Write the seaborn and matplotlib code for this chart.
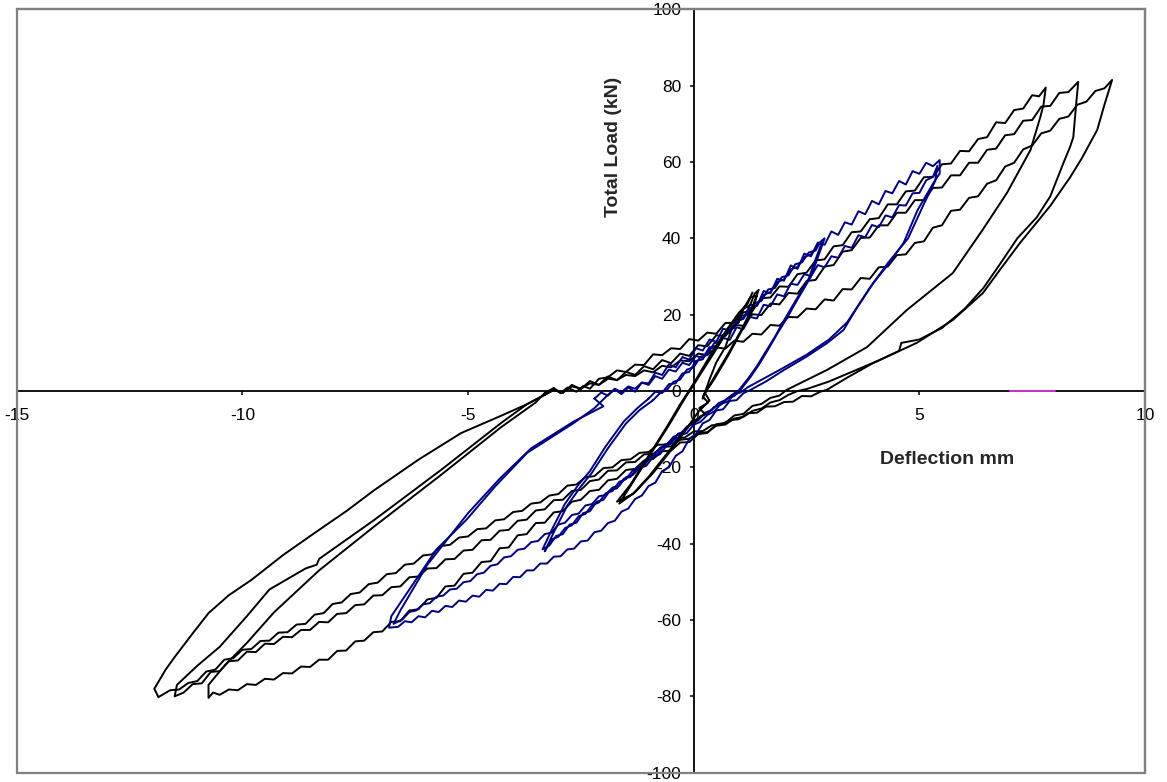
import matplotlib
matplotlib.use("Agg")
import matplotlib.pyplot as plt
from matplotlib.patches import Rectangle
import seaborn as sns
import numpy as np

# ---------------- data (deflection mm, total load kN) ----------------
# Black cycle 1 (peak +7.8 / -10.75)
blk1_up = [(-3.3,-0.5),(-3.1,0.8),(-2.95,-0.6),(-2.8,0.9),(-2.6,-0.2),(-2.45,1.3),(-2.3,0.6),(-2.1,3.2),(-1.9,3.6),(-1.7,5.4),(-1.5,5.0),(-1.3,6.9),(-1.1,6.8),(-0.9,9.6),(-0.7,9.4),(-0.5,11.2),(-0.3,11.0),(-0.1,13.6),(0.1,13.2),(0.3,15.3),(0.5,15.0),(0.7,17.8),(0.9,17.9),(1.1,20.6),(1.3,21.0),(1.5,24.3),(1.7,24.5),(1.9,27.4),(2.1,27.3),(2.3,30.6),(2.5,31.0),(2.7,34.2),(2.9,34.5),(3.1,37.9),(3.3,38.2),(3.5,41.6),(3.7,41.8),(3.9,45.0),(4.1,45.3),(4.3,48.9),(4.5,48.9),(4.7,52.3),(4.9,52.5),(5.1,56.0),(5.3,56.1),(5.5,59.4),(5.7,59.6),(5.9,62.9),(6.1,62.8),(6.3,66.0),(6.5,66.5),(6.7,70.4),(6.9,70.2),(7.1,73.6),(7.3,74.0),(7.5,77.5),(7.65,77.2),(7.8,79.5)]
blk1_unload = [(7.8,79.5),(7.75,75.0),(7.68,71.8),(7.46,63.1),(6.94,51.9),(6.4,42.2),(5.74,30.9),(4.72,21.2),(3.84,11.5),(2.95,5.5),(2.06,0.3)]
blk1_low = [(1.9,-1.2),(1.7,-1.8),(1.5,-3.4),(1.3,-3.9),(1.1,-6.0),(0.9,-6.4),(0.7,-8.4),(0.5,-8.7),(0.3,-11.0),(0.1,-11.3),(-0.1,-13.4),(-0.3,-13.5),(-0.5,-15.6),(-0.7,-15.8),(-0.9,-17.8),(-1.1,-18.2),(-1.3,-20.4),(-1.5,-20.7),(-1.7,-23.0),(-1.9,-23.4),(-2.1,-25.9),(-2.3,-26.2),(-2.5,-28.5),(-2.7,-29.0),(-2.9,-31.5),(-3.1,-31.8),(-3.3,-34.5),(-3.5,-34.6),(-3.7,-37.5),(-3.9,-37.8),(-4.1,-41.0),(-4.3,-41.2),(-4.5,-44.6),(-4.7,-44.8),(-4.9,-47.6),(-5.1,-47.9),(-5.3,-51.0),(-5.5,-51.2),(-5.7,-54.2),(-5.9,-54.6),(-6.1,-57.2),(-6.3,-57.5),(-6.5,-60.3),(-6.7,-60.5),(-6.9,-63.0),(-7.1,-63.2),(-7.3,-65.4),(-7.5,-65.6),(-7.7,-68.0),(-7.9,-68.1),(-8.1,-70.4),(-8.3,-70.4),(-8.5,-72.3),(-8.7,-72.2),(-8.9,-74.0),(-9.1,-73.9),(-9.3,-75.6),(-9.5,-75.4),(-9.7,-77.0),(-9.9,-76.8),(-10.1,-78.4),(-10.3,-78.2),(-10.5,-79.6),(-10.65,-79.0),(-10.75,-80.4)]
blk1_back = [(-10.75,-80.4),(-10.75,-77.0),(-10.4,-72.0),(-9.9,-66.0),(-9.3,-58.0),(-8.3,-47.0),(-7.08,-35.5),(-5.6,-22.0),(-4.27,-9.5),(-3.5,-3.0),(-3.3,-0.5)]

# Black cycle 2 (peak +8.5 / -11.5)
blk2_up = [(-3.3,-1.0),(-3.1,0.5),(-2.9,-0.5),(-2.7,1.6),(-2.5,0.5),(-2.3,2.6),(-2.1,1.6),(-1.9,3.8),(-1.7,2.8),(-1.5,5.0),(-1.3,4.2),(-1.1,6.5),(-0.9,5.7),(-0.7,8.1),(-0.5,7.3),(-0.3,9.8),(-0.1,9.2),(0.1,12.0),(0.3,11.7),(0.5,14.6),(0.7,14.4),(0.9,17.3),(1.1,17.1),(1.3,20.1),(1.5,19.9),(1.7,22.9),(1.9,22.7),(2.1,25.7),(2.3,25.5),(2.5,28.8),(2.7,29.1),(2.9,32.6),(3.1,33.0),(3.3,36.5),(3.5,36.9),(3.7,40.1),(3.9,40.2),(4.1,43.4),(4.3,43.4),(4.5,46.7),(4.7,46.7),(4.9,50.0),(5.1,50.0),(5.3,53.2),(5.5,53.3),(5.7,56.5),(5.9,56.5),(6.1,59.8),(6.3,59.8),(6.5,63.2),(6.7,63.5),(6.9,67.0),(7.1,67.3),(7.3,70.8),(7.5,71.0),(7.7,74.5),(7.9,74.7),(8.1,78.1),(8.3,78.3),(8.52,81.0)]
blk2_unload = [(8.52,81.0),(8.48,76.0),(8.41,66.5),(8.34,64.0),(8.2,60.0),(7.9,51.0),(7.6,45.5),(7.17,40.0),(6.8,33.5),(6.42,27.0),(6.0,21.5),(5.5,16.5),(5.0,13.5),(4.6,12.6),(4.55,10.5),(4.1,8.0),(3.6,5.5),(3.0,2.5),(2.5,0.5),(2.3,0.0)]
blk2_low = [(2.1,-1.0),(1.9,-2.4),(1.7,-3.0),(1.5,-4.6),(1.3,-5.2),(1.1,-6.8),(0.9,-7.2),(0.7,-8.8),(0.5,-9.1),(0.3,-10.8),(0.1,-11.0),(-0.1,-12.5),(-0.3,-12.8),(-0.5,-14.5),(-0.7,-14.7),(-0.9,-16.5),(-1.1,-16.6),(-1.3,-18.6),(-1.5,-18.7),(-1.7,-20.8),(-1.9,-20.9),(-2.1,-23.2),(-2.3,-23.6),(-2.5,-25.9),(-2.7,-26.2),(-2.9,-28.5),(-3.1,-28.6),(-3.3,-31.0),(-3.5,-31.3),(-3.7,-33.7),(-3.9,-34.0),(-4.1,-36.4),(-4.3,-36.6),(-4.5,-39.0),(-4.7,-39.1),(-4.9,-41.6),(-5.1,-41.8),(-5.3,-44.0),(-5.5,-44.1),(-5.7,-46.4),(-5.9,-46.5),(-6.1,-48.6),(-6.3,-48.8),(-6.5,-51.2),(-6.7,-51.4),(-6.9,-53.5),(-7.1,-53.6),(-7.3,-55.9),(-7.5,-56.1),(-7.7,-58.2),(-7.9,-58.4),(-8.1,-60.6),(-8.3,-60.5),(-8.5,-62.6),(-8.7,-62.6),(-8.9,-64.5),(-9.1,-64.4),(-9.3,-66.3),(-9.5,-66.2),(-9.7,-68.4),(-9.9,-68.3),(-10.1,-70.6),(-10.3,-70.8),(-10.5,-73.4),(-10.7,-73.6),(-10.9,-76.6),(-11.1,-76.8),(-11.3,-79.0),(-11.5,-80.0)]
blk2_back = [(-11.5,-80.0),(-11.45,-77.0),(-11.0,-72.0),(-10.5,-67.0),(-9.9,-59.0),(-9.4,-52.0),(-8.6,-46.5),(-8.35,-45.5),(-8.3,-44.0),(-7.08,-33.8),(-5.6,-20.7),(-4.27,-8.4),(-3.7,-3.5),(-3.3,-1.0)]

# Black cycle 3 (peak +9.3 / -11.9)
blk3_up = [(-3.3,-1.0),(-3.1,0.2),(-2.9,-0.4),(-2.7,1.2),(-2.5,0.6),(-2.3,2.0),(-2.1,1.6),(-1.9,3.2),(-1.7,2.9),(-1.5,4.2),(-1.3,3.9),(-1.1,5.4),(-0.9,4.9),(-0.7,6.6),(-0.5,6.2),(-0.3,8.0),(-0.1,7.8),(0.1,9.8),(0.3,9.4),(0.5,11.4),(0.7,11.1),(0.9,13.2),(1.1,12.9),(1.3,15.0),(1.5,14.8),(1.7,17.3),(1.9,17.1),(2.1,19.4),(2.3,19.3),(2.5,21.6),(2.7,21.4),(2.9,24.0),(3.1,23.7),(3.3,26.7),(3.5,26.6),(3.7,29.6),(3.9,29.4),(4.1,32.4),(4.3,32.6),(4.5,35.6),(4.7,35.8),(4.9,38.8),(5.1,39.2),(5.3,42.8),(5.5,43.4),(5.7,47.2),(5.9,47.5),(6.1,50.6),(6.3,51.0),(6.5,54.3),(6.7,55.2),(6.9,58.8),(7.1,59.8),(7.3,63.3),(7.5,64.3),(7.7,67.5),(7.9,68.2),(8.1,71.3),(8.3,71.9),(8.5,75.0),(8.7,75.8),(8.9,78.6),(9.1,79.3),(9.27,81.5)]
blk3_unload = [(9.27,81.5),(9.1,75.0),(8.94,68.4),(8.6,61.0),(8.34,56.0),(7.9,48.5),(7.23,38.8),(6.8,32.0),(6.41,25.7),(5.74,18.6),(4.94,12.6),(3.97,7.3),(3.4,3.5),(2.95,0.3)]
blk3_low = [(2.8,-0.2),(2.6,-1.4),(2.4,-1.3),(2.2,-2.8),(2.0,-2.9),(1.8,-4.0),(1.6,-4.1),(1.4,-5.7),(1.2,-5.8),(1.0,-7.4),(0.8,-7.6),(0.6,-8.8),(0.4,-9.0),(0.2,-10.5),(0.0,-10.6),(-0.2,-12.2),(-0.4,-12.3),(-0.6,-14.0),(-0.8,-14.1),(-1.0,-16.0),(-1.2,-16.2),(-1.4,-17.9),(-1.6,-18.1),(-1.8,-20.0),(-2.0,-20.2),(-2.2,-22.3),(-2.4,-22.6),(-2.6,-24.5),(-2.8,-24.8),(-3.0,-27.0),(-3.2,-27.4),(-3.4,-29.2),(-3.6,-29.5),(-3.8,-31.4),(-4.0,-31.7),(-4.2,-33.6),(-4.4,-33.9),(-4.6,-36.0),(-4.8,-36.2),(-5.0,-38.1),(-5.2,-38.4),(-5.4,-40.3),(-5.6,-40.6),(-5.8,-42.8),(-6.0,-43.1),(-6.2,-45.2),(-6.4,-45.5),(-6.6,-47.7),(-6.8,-48.0),(-7.0,-50.2),(-7.2,-50.6),(-7.4,-52.8),(-7.6,-53.2),(-7.8,-55.4),(-8.0,-55.8),(-8.2,-58.2),(-8.4,-58.6),(-8.6,-61.0),(-8.8,-61.2),(-9.0,-63.2),(-9.2,-63.3),(-9.4,-65.4),(-9.6,-65.5),(-9.8,-67.6),(-10.0,-67.8),(-10.2,-70.0),(-10.4,-70.4),(-10.6,-73.0),(-10.8,-73.5),(-11.0,-76.0),(-11.2,-76.5),(-11.4,-78.2),(-11.6,-78.4),(-11.86,-80.2)]
blk3_back = [(-11.86,-80.2),(-11.95,-78.0),(-11.7,-73.0),(-11.5,-69.7),(-11.1,-63.5),(-10.75,-58.2),(-10.3,-53.5),(-9.8,-49.5),(-9.1,-43.0),(-8.4,-37.2),(-7.7,-31.5),(-7.08,-26.0),(-6.1,-18.0),(-5.15,-11.0),(-4.27,-6.5),(-3.7,-3.5),(-3.3,-1.0)]

# Small central black loops
blk_small = [(0.2,-2.0),(0.35,3.0),(0.5,7.5),(0.7,11.5),(0.85,16.5),(1.0,18.0),(1.1,21.5),(1.25,22.5),(1.35,25.5),(1.44,26.5),(1.3,22.0),(1.1,17.0),(0.8,10.5),(0.5,4.5),(0.3,0.5),(0.2,-1.5),(0.32,-3.0),(0.12,-4.5),(0.25,-6.0),(-0.1,-9.0),(-0.5,-15.5),(-0.9,-21.5),(-1.3,-26.5),(-1.65,-29.5),(-1.3,-23.0),(-0.9,-15.5),(-0.5,-8.0),(-0.2,-2.0),(0.1,3.5),(0.45,10.0),(0.8,17.0),(0.95,19.0),(1.1,21.5),(1.25,24.5),(1.4,25.0),(1.3,21.0),(1.05,15.5),(0.75,9.0),(0.45,3.0),(0.25,-0.5),(0.35,-2.5),(0.1,-5.5),(-0.2,-10.5),(-0.6,-16.5),(-1.0,-22.5),(-1.35,-27.0),(-1.7,-29.0),(-1.4,-24.5),(-1.0,-17.0),(-0.6,-9.5),(-0.3,-3.5),(0.0,2.0),(0.35,9.0),(0.7,15.5),(1.0,20.5),(1.2,23.0),(1.3,25.8)]

# Blue big cycle 1
blu1_up = [(-1.9,-1.0),(-1.75,0.4),(-1.6,-0.8),(-1.45,0.9),(-1.3,-0.2),(-1.15,2.2),(-1.0,2.0),(-0.85,4.8),(-0.7,4.2),(-0.55,7.0),(-0.4,6.2),(-0.25,8.9),(-0.1,8.2),(0.05,11.2),(0.2,10.6),(0.35,13.5),(0.5,12.9),(0.65,16.3),(0.8,15.9),(0.95,19.6),(1.1,19.0),(1.25,22.6),(1.4,22.3),(1.55,26.2),(1.7,25.6),(1.85,29.4),(2.0,28.9),(2.15,32.9),(2.3,32.0),(2.45,36.0),(2.6,35.3),(2.75,38.9),(2.9,38.3),(3.05,41.8),(3.2,40.9),(3.35,44.2),(3.5,43.6),(3.65,47.1),(3.8,46.3),(3.95,49.8),(4.1,48.9),(4.25,52.4),(4.4,51.8),(4.55,55.0),(4.7,54.1),(4.85,57.6),(5.0,56.9),(5.15,59.8),(5.3,58.9),(5.45,60.5)]
blu1_unload = [(5.45,60.5),(5.45,57.0),(5.31,54.5),(4.96,47.4),(4.65,38.8),(4.3,33.0),(3.98,28.3),(3.6,21.5),(3.32,16.0),(2.96,12.6),(2.5,9.0),(2.0,5.5),(1.6,2.5),(1.26,0.3)]
blu1_low = [(1.1,-0.6),(0.95,-2.4),(0.8,-2.6),(0.65,-4.8),(0.5,-5.1),(0.35,-7.6),(0.2,-8.5),(0.05,-11.3),(-0.1,-12.6),(-0.25,-15.8),(-0.4,-17.0),(-0.55,-20.0),(-0.7,-21.0),(-0.85,-24.0),(-1.0,-24.9),(-1.15,-27.4),(-1.3,-28.3),(-1.45,-30.8),(-1.6,-31.6),(-1.75,-34.0),(-1.9,-34.6),(-2.05,-36.6),(-2.2,-37.0),(-2.35,-39.2),(-2.5,-39.4),(-2.65,-41.3),(-2.8,-41.5),(-2.95,-43.3),(-3.1,-43.4),(-3.25,-45.2),(-3.4,-45.2),(-3.55,-47.0),(-3.7,-47.0),(-3.85,-48.8),(-4.0,-48.7),(-4.15,-50.6),(-4.3,-50.5),(-4.45,-52.3),(-4.6,-52.1),(-4.75,-53.9),(-4.9,-53.6),(-5.05,-55.2),(-5.2,-54.9),(-5.35,-56.6),(-5.5,-56.3),(-5.65,-57.9),(-5.8,-57.6),(-5.95,-59.3),(-6.1,-59.0),(-6.25,-60.6),(-6.4,-60.3),(-6.55,-61.8),(-6.75,-62.0)]
blu1_back = [(-6.75,-62.0),(-6.7,-59.0),(-6.3,-52.0),(-5.7,-41.5),(-5.04,-33.8),(-4.4,-25.0),(-3.69,-16.2),(-2.66,-8.4),(-2.2,-4.5),(-1.9,-1.0)]

# Blue big cycle 2
blu2_up = [(-2.2,-2.0),(-2.05,-0.4),(-1.9,-1.2),(-1.75,0.6),(-1.6,-0.3),(-1.45,1.2),(-1.3,0.6),(-1.15,2.2),(-1.0,1.6),(-0.85,3.9),(-0.7,3.2),(-0.55,5.6),(-0.4,5.1),(-0.25,7.4),(-0.1,6.8),(0.05,9.2),(0.2,8.6),(0.35,11.5),(0.5,11.0),(0.65,13.9),(0.8,13.4),(0.95,16.7),(1.1,16.2),(1.25,19.4),(1.4,19.0),(1.55,22.6),(1.7,22.2),(1.85,25.3),(2.0,24.8),(2.15,28.1),(2.3,27.8),(2.45,30.6),(2.6,30.1),(2.75,33.0),(2.9,32.4),(3.05,35.3),(3.2,34.9),(3.35,38.0),(3.5,37.5),(3.65,40.8),(3.8,40.3),(3.95,43.5),(4.1,42.9),(4.25,46.0),(4.4,45.5),(4.55,48.7),(4.7,48.6),(4.85,51.8),(5.0,51.9),(5.15,55.2),(5.3,56.1),(5.4,59.0)]
blu2_unload = [(5.4,59.0),(5.35,55.0),(5.1,49.0),(4.75,40.0),(4.3,33.5),(3.9,27.0),(3.4,18.0),(3.0,13.5),(2.5,9.5),(1.9,5.5),(1.2,1.0)]
blu2_low = [(1.05,-0.3),(0.9,-0.9),(0.75,-2.8),(0.6,-3.4),(0.45,-5.4),(0.3,-6.3),(0.15,-8.1),(0.0,-8.8),(-0.15,-11.0),(-0.3,-11.6),(-0.45,-13.6),(-0.6,-14.3),(-0.75,-16.6),(-0.9,-17.2),(-1.05,-19.6),(-1.2,-20.2),(-1.35,-22.0),(-1.5,-22.6),(-1.65,-24.8),(-1.8,-25.3),(-1.95,-27.2),(-2.1,-27.6),(-2.25,-29.6),(-2.4,-30.0),(-2.55,-32.1),(-2.7,-32.5),(-2.85,-34.5),(-3.0,-35.0),(-3.15,-37.1),(-3.3,-37.5),(-3.45,-39.3),(-3.6,-39.6),(-3.75,-41.3),(-3.9,-41.6),(-4.05,-43.3),(-4.2,-43.6),(-4.35,-45.4),(-4.5,-45.8),(-4.65,-47.6),(-4.8,-48.0),(-4.95,-49.8),(-5.1,-50.1),(-5.25,-51.8),(-5.4,-52.0),(-5.55,-53.6),(-5.7,-53.9),(-5.85,-55.6),(-6.0,-55.9),(-6.15,-57.5),(-6.3,-57.9),(-6.45,-59.8),(-6.65,-61.0)]
blu2_back = [(-6.65,-61.0),(-6.5,-57.5),(-5.9,-45.5),(-5.0,-32.0),(-4.3,-23.0),(-3.6,-15.0),(-2.66,-8.0),(-2.0,-4.0),(-2.2,-2.0)]

# Small blue loops
blu_sa = [(-0.9,-2.4),(-0.75,-0.6),(-0.6,0.2),(-0.45,2.4),(-0.3,3.0),(-0.15,5.6),(0.0,6.2),(0.15,9.0),(0.3,9.4),(0.45,12.5),(0.6,13.0),(0.75,15.9),(0.9,16.5),(1.05,19.6),(1.2,20.1),(1.35,23.0),(1.5,23.6),(1.65,26.6),(1.8,27.0),(1.95,29.8),(2.1,30.3),(2.25,33.2),(2.4,33.7),(2.55,36.3),(2.7,36.8),(2.8,39.0),(2.9,40.0),
          (2.75,35.0),(2.6,30.0),(2.3,24.0),(2.08,19.4),(1.85,15.0),(1.64,10.7),(1.45,7.0),(1.26,3.7),(1.05,0.5),
          (0.9,-1.3),(0.75,-1.9),(0.6,-3.6),(0.45,-4.2),(0.3,-6.0),(0.15,-6.6),(0.0,-8.6),(-0.15,-9.3),(-0.3,-11.3),(-0.45,-12.0),(-0.6,-14.1),(-0.75,-14.9),(-0.9,-17.1),(-1.05,-17.8),(-1.2,-20.1),(-1.35,-20.8),(-1.5,-23.1),(-1.65,-23.8),(-1.8,-26.2),(-1.95,-26.8),(-2.1,-29.2),(-2.25,-29.9),(-2.4,-32.2),(-2.55,-32.8),(-2.7,-35.2),(-2.85,-35.9),(-3.0,-38.2),(-3.15,-38.9),(-3.3,-42.0),
          (-3.1,-37.0),(-2.8,-30.0),(-2.5,-25.0),(-2.26,-21.5),(-1.9,-15.0),(-1.5,-8.5),(-1.2,-5.0),(-0.9,-2.4)]
blu_sb = [(-1.0,-2.0),(-0.85,-0.2),(-0.7,-0.5),(-0.55,1.8),(-0.4,2.0),(-0.25,4.6),(-0.1,5.0),(0.05,7.9),(0.2,8.3),(0.35,11.2),(0.5,11.9),(0.65,14.7),(0.8,15.3),(0.95,18.2),(1.1,18.9),(1.25,21.7),(1.4,22.4),(1.55,25.2),(1.7,25.9),(1.85,28.6),(2.0,29.2),(2.15,31.9),(2.3,32.5),(2.45,35.1),(2.6,35.8),(2.75,38.2),(2.85,39.2),
          (2.7,34.5),(2.55,29.5),(2.25,23.5),(2.0,18.5),(1.8,14.2),(1.58,10.0),(1.4,6.5),(1.2,3.2),(1.0,0.2),
          (0.85,-1.0),(0.7,-2.4),(0.55,-3.2),(0.4,-5.0),(0.25,-5.7),(0.1,-7.7),(-0.05,-8.4),(-0.2,-10.6),(-0.35,-11.2),(-0.5,-13.5),(-0.65,-14.1),(-0.8,-16.5),(-0.95,-17.1),(-1.1,-19.5),(-1.25,-20.0),(-1.4,-22.5),(-1.55,-23.0),(-1.7,-25.5),(-1.85,-26.0),(-2.0,-28.5),(-2.15,-29.0),(-2.3,-31.5),(-2.45,-32.0),(-2.6,-34.5),(-2.75,-35.0),(-2.9,-37.5),(-3.05,-38.0),(-3.2,-40.5),(-3.35,-41.5),
          (-3.15,-36.5),(-2.85,-29.5),(-2.55,-24.5),(-2.3,-21.0),(-1.95,-14.5),(-1.55,-8.0),(-1.25,-4.5),(-1.0,-2.0)]

# Short magenta marker series on the x axis
mag = [(7.0,0.0),(8.0,0.0)]

x_ticks = [-15, -10, -5, 0, 5, 10]
y_ticks = [-100, -80, -60, -40, -20, 0, 20, 40, 60, 80, 100]

BLACK = "#000000"
NAVY = "#000080"
MAGENTA = "#CC33CC"

series = [
    (blk1_up + blk1_unload + blk1_low + blk1_back, BLACK),
    (blk2_up + blk2_unload + blk2_low + blk2_back, BLACK),
    (blk3_up + blk3_unload + blk3_low + blk3_back, BLACK),
    (blu1_up + blu1_unload + blu1_low + blu1_back, NAVY),
    (blu2_up + blu2_unload + blu2_low + blu2_back, NAVY),
    (blu_sa, NAVY),
    (blu_sb, NAVY),
    (blk_small, BLACK),
    (mag, MAGENTA),
]

# ---------------- figure ----------------
sns.set_theme(style="white")
plt.rcParams['font.family'] = ['Liberation Sans', 'DejaVu Sans']

fig = plt.figure(figsize=(11.67, 7.82), dpi=100)
ax = fig.add_axes([0.0143, 0.0119, 0.9669, 0.9762])

for pts, col in series:
    xs = [p[0] for p in pts]
    ys = [p[1] for p in pts]
    sns.lineplot(x=xs, y=ys, sort=False, estimator=None, color=col,
                 linewidth=1.4, ax=ax, legend=False)

ax.set_xlim(-15, 10)
ax.set_ylim(-100, 100)
ax.set_xticks(x_ticks)
ax.set_yticks(y_ticks)
ax.set_xticklabels([str(v) for v in x_ticks])
ax.set_yticklabels([str(v) for v in y_ticks])

ax.spines['left'].set_position(('data', 0))
ax.spines['bottom'].set_position(('data', 0))
for s in ('left', 'bottom'):
    ax.spines[s].set_color('black')
    ax.spines[s].set_linewidth(1.3)
    ax.spines[s].set_zorder(1)
for s in ('top', 'right'):
    ax.spines[s].set_color('#808080')
    ax.spines[s].set_linewidth(1.6)

ax.add_patch(Rectangle((0, 0), 1, 1, transform=ax.transAxes, fill=False,
                       edgecolor='#808080', linewidth=1.6, clip_on=False, zorder=5))

ax.tick_params(axis='both', which='major', direction='out', length=3,
               width=1.1, color='black', labelsize=12.5, labelcolor='black')
ax.tick_params(axis='x', pad=9)
ax.tick_params(axis='y', pad=6)
ax.xaxis.set_ticks_position('bottom')
ax.yaxis.set_ticks_position('left')
ax.set_xlabel('')
ax.set_ylabel('')
ax.grid(False)
ax.set_facecolor('white')

fig.text(947/1167, 1 - 459/782, 'Deflection mm', ha='center', va='center',
         fontsize=14, fontweight='bold')
fig.text(613/1167, 1 - 147/782, 'Total Load (kN)', ha='center', va='center',
         rotation=90, fontsize=14, fontweight='bold')

fig.savefig('out.png', dpi=100, facecolor='white')
